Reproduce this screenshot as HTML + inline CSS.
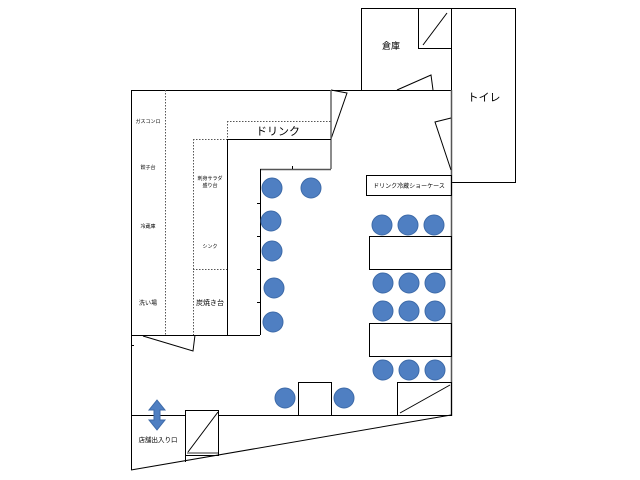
<!DOCTYPE html>
<html><head><meta charset="utf-8"><style>
html,body{margin:0;padding:0;background:#fff;}
svg{display:block;}
text{font-family:"Liberation Sans","Noto Sans CJK JP",sans-serif;fill:#000;}
</style></head><body>
<svg width="640" height="480" viewBox="0 0 640 480" xmlns="http://www.w3.org/2000/svg">
<g fill="none" stroke="#000" stroke-width="1">
<!-- storage & toilet -->
<rect x="361.5" y="8.5" width="90" height="82"/>
<rect x="418.5" y="8.5" width="33" height="40"/>
<line x1="423" y1="45" x2="447" y2="13"/>
<rect x="451.5" y="8.5" width="64" height="174"/>
<polyline points="397,90 431,75 433,90"/>
<!-- main outline -->
<line x1="131.5" y1="90.5" x2="451.5" y2="90.5"/>
<line x1="131.5" y1="90" x2="131.5" y2="470"/>
<line x1="451.5" y1="90" x2="451.5" y2="416" stroke="#555" stroke-width="1.5"/>
<line x1="131" y1="470" x2="451" y2="415"/>
<line x1="131" y1="415.5" x2="185" y2="415.5"/>
<line x1="218" y1="415.5" x2="451" y2="415.5"/>
<!-- right door -->
<polyline points="451,118 435,122 451,170"/>
<!-- top door -->
<polyline points="331,90 347,93 331,139"/>
<line x1="331" y1="90" x2="331" y2="169" stroke="#666" stroke-width="1.5"/>
<!-- kitchen dotted -->
<g stroke-dasharray="1.5,1.5" stroke="#555">
<line x1="165.5" y1="90" x2="165.5" y2="335"/>
<line x1="193.5" y1="139" x2="193.5" y2="335"/>
<line x1="193" y1="139.5" x2="227" y2="139.5"/>
<line x1="193" y1="269.5" x2="227" y2="269.5"/>
<line x1="227" y1="121.5" x2="331" y2="121.5"/>
<line x1="227.5" y1="121" x2="227.5" y2="139"/>
</g>
<line x1="227" y1="139.5" x2="331" y2="139.5"/>
<line x1="227.5" y1="139" x2="227.5" y2="335"/>
<line x1="260" y1="169.5" x2="331" y2="169.5" stroke="#555" stroke-width="1.5"/>
<line x1="260.5" y1="169" x2="260.5" y2="335"/>
<line x1="292.5" y1="166" x2="292.5" y2="169"/>
<line x1="257" y1="203.5" x2="260" y2="203.5"/>
<line x1="257" y1="236.5" x2="260" y2="236.5"/>
<line x1="257" y1="269.5" x2="260" y2="269.5"/>
<line x1="257" y1="302.5" x2="260" y2="302.5"/>
<line x1="131" y1="335.5" x2="260" y2="335.5"/>
<polyline points="143,336 193,351 195,335"/>
<line x1="131" y1="345.5" x2="134" y2="345.5"/>
<!-- tables -->
<rect x="366.5" y="175.5" width="85" height="20"/>
<rect x="369.5" y="236.5" width="82" height="33"/>
<rect x="369.5" y="323.5" width="82" height="33"/>
<rect x="298.5" y="382.5" width="33" height="33"/>
<rect x="397.5" y="382.5" width="54" height="33"/>
<line x1="400" y1="413" x2="450" y2="385"/>
<!-- entrance door -->
<rect x="185.5" y="410.5" width="33" height="45"/>
<line x1="185.5" y1="455" x2="185.5" y2="462"/>
<line x1="188" y1="452" x2="218" y2="412"/>
<line x1="187" y1="453" x2="218" y2="453" stroke="#777" stroke-width="1.5"/>
</g>
<!-- chairs -->
<g fill="#4f7fc2" stroke="#3d6aa8" stroke-width="1">
<circle cx="272" cy="188" r="10"/><circle cx="311" cy="188" r="10"/>
<circle cx="271" cy="221" r="10"/><circle cx="272" cy="251" r="10"/>
<circle cx="274" cy="288" r="10"/><circle cx="273" cy="322" r="10"/>
<circle cx="382" cy="225" r="10"/><circle cx="408" cy="225" r="10"/><circle cx="434" cy="225" r="10"/>
<circle cx="383" cy="283" r="10"/><circle cx="409" cy="283" r="10"/><circle cx="435" cy="283" r="10"/>
<circle cx="383" cy="311" r="10"/><circle cx="409" cy="311" r="10"/><circle cx="435" cy="311" r="10"/>
<circle cx="383" cy="370" r="10"/><circle cx="409" cy="370" r="10"/><circle cx="435" cy="370" r="10"/>
<circle cx="285" cy="398" r="10"/><circle cx="344" cy="398" r="10"/>
</g>
<polygon points="157,400 165,410 160,410 160,420 165,420 157,430 149,420 154,420 154,410 149,410" fill="#4f7fc2" stroke="#3d6aa8"/>
<!-- labels -->
<g text-anchor="middle">
<text x="391" y="49" font-size="9">倉庫</text>
<text x="484" y="101" font-size="11">トイレ</text>
<text x="278" y="135" font-size="11">ドリンク</text>
<text x="409" y="188" font-size="6">ドリンク冷蔵ショーケース</text>
<text x="148" y="123" font-size="5">ガスコンロ</text>
<text x="148" y="169" font-size="5">餃子台</text>
<text x="148" y="228" font-size="5">冷蔵庫</text>
<text x="148" y="305" font-size="6">洗い場</text>
<text x="210" y="180" font-size="5">刺身サラダ</text>
<text x="210" y="187" font-size="5">盛り台</text>
<text x="210" y="248" font-size="5">シンク</text>
<text x="210" y="305" font-size="7">炭焼き台</text>
<text x="158" y="442" font-size="6.5">店舗出入り口</text>
</g>
</svg>
</body></html>
